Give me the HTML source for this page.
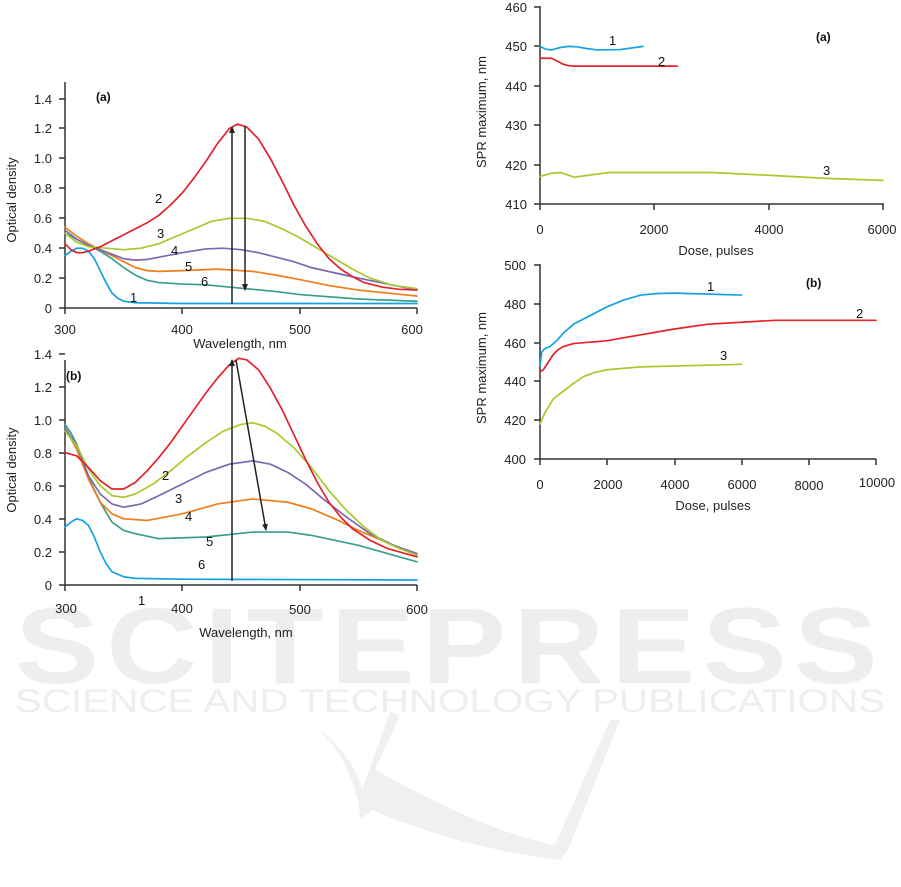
<!DOCTYPE html>
<html><head><meta charset="utf-8"><style>
html,body{margin:0;padding:0;background:#fff;}
svg{display:block;font-family:"Liberation Sans",Arial,sans-serif;}
.t{font-size:13px;fill:#222;}
.l{font-size:13px;fill:#111;}
.b{font-size:12px;font-weight:bold;fill:#111;}
.c{fill:none;stroke-width:1.7;vector-effect:non-scaling-stroke;stroke-linejoin:round;stroke-linecap:round;}
.ax{stroke:#333;stroke-width:1.5;fill:none;}
</style></head><body>
<svg width="901" height="887" viewBox="0 0 901 887">
<defs><marker id="ah" markerWidth="8" markerHeight="8" refX="6" refY="3" orient="auto" markerUnits="userSpaceOnUse"><path d="M0,0 L7,3 L0,6 z" fill="#222"/></marker></defs>
<!-- watermark -->
<g stroke="none">
<text x="450" y="683" text-anchor="middle" style="font-size:108px;font-weight:bold;letter-spacing:6px" fill="#eeeeee" textLength="870" lengthAdjust="spacingAndGlyphs">SCITEPRESS</text>
<text x="450" y="712" text-anchor="middle" style="font-size:32px;" fill="#eeeeee" textLength="870" lengthAdjust="spacingAndGlyphs">SCIENCE AND TECHNOLOGY PUBLICATIONS</text>
<path d="M305,720 C340,740 360,790 360,820 L372,810 C420,830 480,850 560,860 L568,850 L620,720 L610,720 L555,845 C500,835 430,800 375,770 L400,715 L390,712 L362,790 C355,760 330,735 305,720 z" fill="#f0f0f0"/>
</g>

<!-- LEFT TOP -->
<g>
<path class="ax" d="M65,82 V308 H417"/>
<g class="ax"><path d="M59,308H65M59,278H65M59,248H65M59,218H65M59,188H65M59,158H65M59,128H65M59,99H65"/>
<path d="M65,308V314M182,308V314M300,308V314M417,308V314"/></g>
<g class="t" text-anchor="end"><text x="52" y="313">0</text><text x="52" y="283">0.2</text><text x="52" y="253">0.4</text><text x="52" y="223">0.6</text><text x="52" y="193">0.8</text><text x="52" y="163">1.0</text><text x="52" y="133">1.2</text><text x="52" y="104">1.4</text></g>
<g class="t" text-anchor="middle"><text x="65" y="334">300</text><text x="182" y="334">400</text><text x="300" y="334">500</text><text x="412" y="334">600</text></g>
<text class="t" x="240" y="348" text-anchor="middle">Wavelength, nm</text>
<text class="t" transform="translate(16,200) rotate(-90)" text-anchor="middle">Optical density</text>
<g transform="translate(65,308) scale(1.1733,-149.5) translate(-300,0)">
<polyline class="c" stroke="#14a3e0" points="300,0.35 305,0.38 310,0.40 315,0.40 320,0.38 325,0.33 330,0.25 335,0.17 340,0.1 345,0.065 350,0.045 360,0.035 400,0.03 600,0.03"/>
<polyline class="c" stroke="#3a9e8c" points="300,0.5 310,0.46 320,0.42 330,0.38 340,0.33 350,0.27 360,0.22 370,0.185 380,0.17 400,0.16 420,0.155 440,0.14 460,0.125 480,0.11 500,0.09 550,0.06 600,0.045"/>
<polyline class="c" stroke="#f07d1a" points="300,0.54 310,0.48 320,0.43 330,0.39 340,0.35 350,0.31 360,0.27 370,0.25 380,0.245 400,0.25 430,0.26 460,0.245 480,0.22 500,0.19 525,0.15 550,0.12 575,0.1 600,0.08"/>
<polyline class="c" stroke="#7b68b5" points="300,0.52 310,0.46 320,0.42 330,0.39 340,0.36 350,0.33 360,0.32 370,0.325 380,0.34 400,0.37 420,0.395 435,0.4 450,0.39 465,0.37 480,0.34 495,0.31 510,0.27 530,0.235 550,0.2 575,0.16 600,0.12"/>
<polyline class="c" stroke="#a6c92c" points="300,0.5 310,0.44 320,0.41 335,0.4 350,0.39 365,0.4 380,0.43 395,0.48 410,0.53 425,0.58 440,0.6 455,0.6 470,0.58 485,0.53 500,0.47 515,0.4 530,0.33 545,0.26 560,0.2 580,0.15 600,0.13"/>
<polyline class="c" stroke="#e3232a" points="300,0.43 305,0.39 310,0.37 315,0.37 320,0.38 330,0.41 340,0.45 350,0.49 360,0.53 370,0.57 380,0.62 390,0.69 400,0.77 410,0.87 420,0.98 430,1.1 440,1.2 447,1.23 455,1.21 465,1.13 475,1.0 485,0.85 495,0.69 505,0.55 515,0.43 525,0.33 535,0.26 545,0.21 555,0.17 570,0.14 585,0.125 600,0.12"/>
</g>
<line x1="232" y1="304" x2="232" y2="127" stroke="#222" stroke-width="1.5" marker-end="url(#ah)"/>
<line x1="245" y1="126" x2="245" y2="290" stroke="#222" stroke-width="1.5" marker-end="url(#ah)"/>
<g class="l"><text x="155" y="203">2</text><text x="157" y="238">3</text><text x="171" y="255">4</text><text x="185" y="271">5</text><text x="201" y="286">6</text><text x="130" y="302">1</text></g>
<text class="b" x="96" y="101">(a)</text>
</g>

<!-- LEFT BOTTOM -->
<g>
<path class="ax" d="M65,360 V585 H417"/>
<g class="ax"><path d="M59,585H65M59,552H65M59,519H65M59,486H65M59,453H65M59,420H65M59,387H65M59,354H65"/>
<path d="M65,585V591M182,585V591M300,585V591M417,585V591"/></g>
<g class="t" text-anchor="end"><text x="52" y="590">0</text><text x="52" y="557">0.2</text><text x="52" y="524">0.4</text><text x="52" y="491">0.6</text><text x="52" y="458">0.8</text><text x="52" y="425">1.0</text><text x="52" y="392">1.2</text><text x="52" y="359">1.4</text></g>
<g class="t" text-anchor="middle"><text x="66" y="613">300</text><text x="182" y="613">400</text><text x="300" y="614">500</text><text x="417" y="614">600</text></g>
<text class="t" x="246" y="637" text-anchor="middle">Wavelength, nm</text>
<text class="t" transform="translate(16,470) rotate(-90)" text-anchor="middle">Optical density</text>
<g transform="translate(65,585) scale(1.1733,-165.5) translate(-300,0)">
<polyline class="c" stroke="#14a3e0" points="300,0.35 305,0.38 310,0.40 315,0.39 320,0.36 325,0.29 330,0.2 335,0.13 340,0.08 350,0.05 360,0.04 400,0.035 600,0.03"/>
<polyline class="c" stroke="#3a9e8c" points="300,0.97 305,0.92 310,0.85 315,0.76 320,0.65 330,0.5 340,0.38 350,0.33 360,0.31 380,0.28 420,0.29 460,0.32 490,0.32 510,0.3 530,0.27 550,0.24 570,0.2 600,0.14"/>
<polyline class="c" stroke="#f07d1a" points="300,0.95 310,0.82 320,0.64 330,0.5 340,0.43 350,0.4 370,0.39 400,0.43 430,0.49 460,0.52 490,0.5 510,0.46 530,0.4 550,0.33 570,0.27 600,0.18"/>
<polyline class="c" stroke="#7b68b5" points="300,0.95 310,0.84 320,0.66 330,0.55 340,0.49 350,0.47 365,0.49 380,0.54 400,0.61 420,0.68 440,0.73 460,0.75 475,0.73 490,0.68 505,0.61 520,0.52 540,0.41 560,0.31 580,0.24 600,0.19"/>
<polyline class="c" stroke="#a6c92c" points="300,0.93 310,0.84 320,0.7 330,0.6 340,0.54 350,0.53 360,0.55 375,0.61 390,0.69 405,0.78 420,0.86 435,0.93 450,0.97 460,0.98 470,0.96 480,0.92 495,0.83 510,0.71 525,0.57 540,0.45 555,0.35 570,0.27 585,0.22 600,0.18"/>
<polyline class="c" stroke="#e3232a" points="300,0.8 310,0.78 320,0.71 330,0.63 340,0.58 350,0.58 360,0.62 370,0.69 380,0.77 390,0.86 400,0.96 410,1.06 420,1.16 430,1.25 440,1.33 448,1.37 455,1.36 465,1.3 475,1.19 485,1.06 495,0.91 505,0.76 515,0.62 525,0.5 535,0.41 545,0.34 560,0.27 575,0.22 590,0.19 600,0.17"/>
</g>
<line x1="232" y1="581" x2="232" y2="360" stroke="#222" stroke-width="1.5" marker-end="url(#ah)"/>
<line x1="236" y1="360" x2="266" y2="530" stroke="#222" stroke-width="1.5" marker-end="url(#ah)"/>
<g class="l"><text x="162" y="480">2</text><text x="175" y="503">3</text><text x="185" y="521">4</text><text x="206" y="546">5</text><text x="198" y="569">6</text><text x="138" y="605">1</text></g>
<text class="b" x="66" y="380">(b)</text>
</g>

<!-- RIGHT TOP -->
<g>
<path class="ax" d="M540,6 V204 H884"/>
<g class="ax"><path d="M534,7H540M534,46H540M534,86H540M534,125H540M534,165H540M534,204H540"/>
<path d="M540,204V210M654,204V210M769,204V210M883,204V210"/></g>
<g class="t" text-anchor="end"><text x="527" y="12">460</text><text x="527" y="51">450</text><text x="527" y="91">440</text><text x="527" y="130">430</text><text x="527" y="170">420</text><text x="527" y="209">410</text></g>
<g class="t" text-anchor="middle"><text x="540" y="234">0</text><text x="654" y="234">2000</text><text x="769" y="234">4000</text><text x="882" y="234">6000</text></g>
<text class="t" x="716" y="255" text-anchor="middle">Dose, pulses</text>
<text class="t" transform="translate(486,112) rotate(-90)" text-anchor="middle">SPR maximum, nm</text>
<g transform="translate(540,204) scale(0.05717,-3.94) translate(0,-410)">
<polyline class="c" stroke="#14a3e0" points="0,450 100,449.3 200,449.1 350,449.7 500,450 650,449.9 800,449.5 1000,449.1 1400,449.2 1800,450"/>
<polyline class="c" stroke="#e3232a" points="0,447 200,447 300,446.3 400,445.5 500,445.1 600,445 1000,445 2400,445"/>
<polyline class="c" stroke="#a6c92c" points="0,417 200,417.8 350,418 500,417.3 600,416.8 800,417.2 1000,417.6 1200,418 3000,418 4000,417.3 5000,416.5 6000,416"/>
</g>
<g class="l"><text x="609" y="45">1</text><text x="658" y="66">2</text><text x="823" y="175">3</text></g>
<text class="b" x="816" y="41">(a)</text>
</g>

<!-- RIGHT BOTTOM -->
<g>
<path class="ax" d="M540,264 V459 H876"/>
<g class="ax"><path d="M534,265H540M534,304H540M534,343H540M534,381H540M534,420H540M534,459H540"/>
<path d="M540,459V465M607,459V465M675,459V465M742,459V465M809,459V465M876,459V465"/></g>
<g class="t" text-anchor="end"><text x="526" y="270">500</text><text x="526" y="309">480</text><text x="526" y="348">460</text><text x="526" y="386">440</text><text x="526" y="425">420</text><text x="526" y="464">400</text></g>
<g class="t" text-anchor="middle"><text x="540" y="489">0</text><text x="608" y="489">2000</text><text x="675" y="489">4000</text><text x="742" y="489">6000</text><text x="809" y="490">8000</text><text x="877" y="487">10000</text></g>
<text class="t" x="713" y="510" text-anchor="middle">Dose, pulses</text>
<text class="t" transform="translate(486,368) rotate(-90)" text-anchor="middle">SPR maximum, nm</text>
<g transform="translate(540,459) scale(0.0336,-1.94) translate(0,-400)">
<polyline class="c" stroke="#14a3e0" points="0,448 50,455 150,457 300,458 500,461 700,465 1000,469.5 1500,474 2000,478.5 2500,482 3000,484.5 3500,485.3 4000,485.5 5000,485 6000,484.5"/>
<polyline class="c" stroke="#e3232a" points="0,445 100,446 250,450 400,454 550,456.5 700,458 1000,459.5 2000,461 3000,464 4000,467 5000,469.5 6000,470.5 7000,471.5 10000,471.5"/>
<polyline class="c" stroke="#a6c92c" points="0,418 150,424 400,431 700,435 1000,439 1300,442.5 1600,444.5 2000,446 3000,447.5 6000,448.8"/>
</g>
<g class="l"><text x="707" y="291">1</text><text x="856" y="318">2</text><text x="720" y="360">3</text></g>
<text class="b" x="806" y="287">(b)</text>
</g>
</svg>
</body></html>
